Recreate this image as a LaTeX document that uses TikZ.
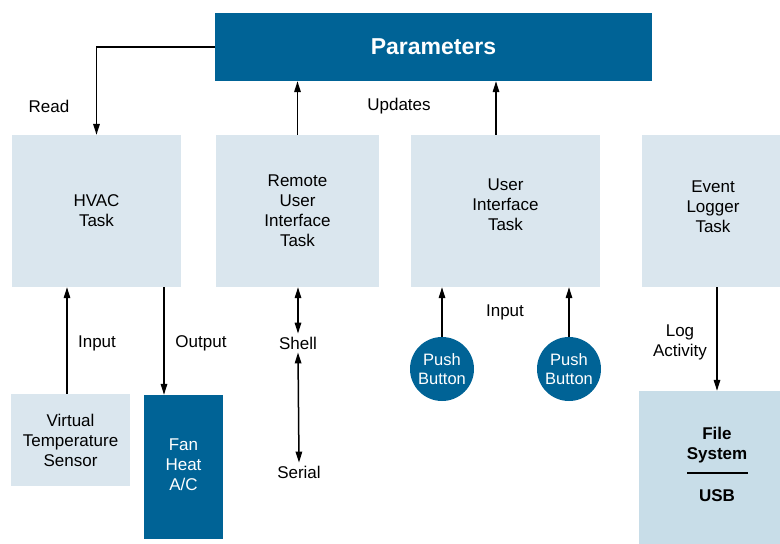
\documentclass[tikz,border=0pt]{standalone}
\usepackage{fontspec}
\setmainfont{Liberation Sans}
\usetikzlibrary{arrows.meta}
\definecolor{dblue}{RGB}{0,99,150}
\definecolor{lblue}{RGB}{218,230,238}
\definecolor{fblue}{RGB}{200,221,232}
\begin{document}
\begin{tikzpicture}[x=1pt,y=-1pt,
  font=\fontsize{17}{20}\selectfont,
  box/.style={fill=lblue, draw=none, align=center, inner sep=0pt},
  dbox/.style={fill=dblue, draw=none, align=center, inner sep=0pt, text=white},
  lbl/.style={align=center, inner sep=1pt},
  arr/.style={line width=1.5pt, -{Triangle[length=11pt,width=6.5pt]}},
  darr/.style={line width=1.5pt, {Triangle[length=11pt,width=6.5pt]}-{Triangle[length=11pt,width=6.5pt]}},
  pbtn/.style={circle, fill=dblue, draw=none, text=white, minimum size=64pt, inner sep=0pt, align=center, font=\fontsize{16.5}{19}\selectfont}]
\useasboundingbox (0,0) rectangle (780,544);

% boxes
\node[dbox, minimum width=437pt, minimum height=68pt, font=\fontsize{23}{26}\selectfont\bfseries] (param) at (433.5,47) {Parameters};
\node[box, minimum width=169pt, minimum height=152pt] (hvac) at (96.5,211) {HVAC\\Task};
\node[box, minimum width=163pt, minimum height=152pt] (remote) at (297.5,211) {Remote\\User\\Interface\\Task};
\node[box, minimum width=189pt, minimum height=152pt] (ui) at (505.5,211) {};
\node[lbl] (uitxt) at (505.5,205) {User\\Interface\\Task};
\node[box, minimum width=138pt, minimum height=152pt] (event) at (711,211) {};
\node[lbl] (eventtxt) at (713,207) {Event\\Logger\\Task};
\node[box, minimum width=119pt, minimum height=92pt] (sensor) at (70.5,440) {Virtual\\Temperature\\Sensor};
\node[dbox, minimum width=79pt, minimum height=144pt] (fan) at (183.5,467) {};
\node[lbl, text=white] (fantxt) at (183.5,465) {Fan\\Heat\\A/C};
\node[box, fill=fblue, minimum width=141pt, minimum height=153pt] (file) at (709.5,467.5) {};
\node[lbl, font=\fontsize{17}{20}\selectfont\bfseries] (fs) at (717,445) {File\\System};
\node[lbl, font=\fontsize{17}{20}\selectfont\bfseries] (usb) at (717,496) {USB};
\draw[line width=1.4pt] (687,473) -- (748,473);

\node[pbtn] (pb1) at (442,369) {Push\\Button};
\node[pbtn] (pb2) at (569,369) {Push\\Button};

% labels
\node[lbl] (read) at (49,106) {Read};
\node[lbl] (updates) at (399,106) {Updates};
\node[lbl] (in1) at (97,343) {Input};
\node[lbl] (out1) at (201,343) {Output};
\node[lbl, inner sep=3pt] (shell) at (298,343) {Shell};
\node[lbl, inner sep=3pt] (serial) at (299,472) {Serial};
\node[lbl] (in2) at (505,312) {Input};
\node[lbl] (logact) at (680,342) {Log\\Activity};

% connectors
\draw[arr] (param.west) -| (hvac.north);
\draw[arr] (remote.north) -- (remote.north |- param.south);
\draw[arr] ([xshift=-9.5pt]ui.north) -- ([xshift=-9.5pt]ui.north |- param.south);
\draw[arr] ([xshift=-3.5pt]sensor.north) -- ([xshift=-3.5pt]sensor.north |- hvac.south);
\draw[arr] ([xshift=-19.5pt]fan.north |- hvac.south) -- ([xshift=-19.5pt]fan.north);
\draw[darr] (remote.south -| shell.north) -- (shell.north);
\draw[darr] (shell.south) -- (serial.north);
\draw[arr] (pb1.north) -- (pb1.north |- ui.south);
\draw[arr] (pb2.north) -- (pb2.north |- ui.south);
\draw[arr] ([xshift=6pt]event.south) -- ([xshift=6pt]event.south |- file.north);
\end{tikzpicture}
\end{document}
